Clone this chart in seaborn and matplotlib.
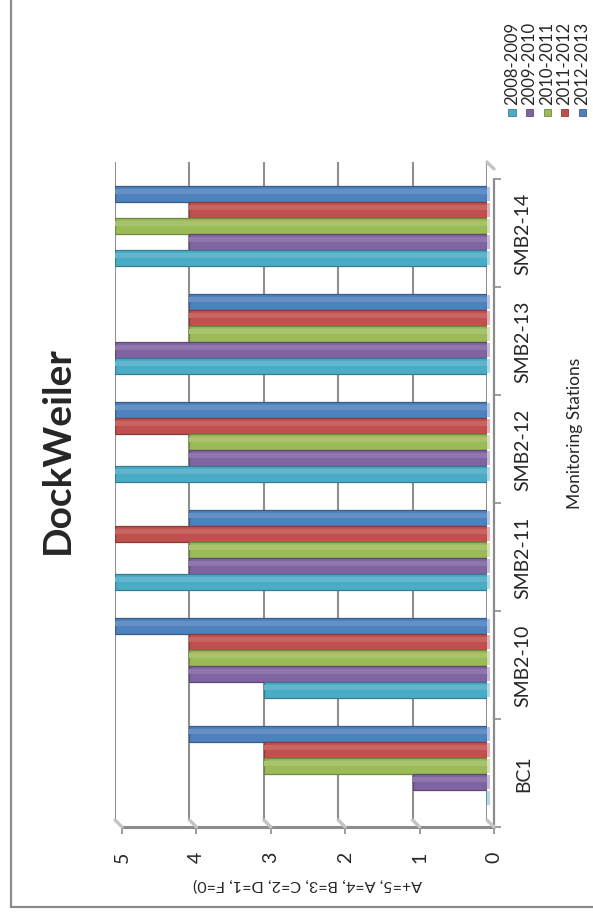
import numpy as np
import pandas as pd
import matplotlib
matplotlib.use("Agg")
import matplotlib.pyplot as plt
import matplotlib.transforms as mtransforms
import matplotlib.colors as mcolors
from matplotlib.lines import Line2D
from matplotlib.patches import Rectangle
import seaborn as sns

# ---- data -------------------------------------------------------------
stations = ["BC1", "SMB2-10", "SMB2-11", "SMB2-12", "SMB2-13", "SMB2-14"]
seasons = ["2008-2009", "2009-2010", "2010-2011", "2011-2012", "2012-2013"]
grades_2008_2009 = [0, 3, 5, 5, 5, 5]
grades_2009_2010 = [1, 4, 4, 4, 5, 4]
grades_2010_2011 = [3, 4, 4, 4, 4, 5]
grades_2011_2012 = [3, 4, 5, 5, 4, 4]
grades_2012_2013 = [4, 5, 4, 5, 4, 5]
season_colors = ["#4BACC6", "#8064A2", "#9BBB59", "#C0504D", "#4F81BD"]
value_ticks = [0, 1, 2, 3, 4, 5]

title = "DockWeiler"
value_axis_label = "A+=5, A=4, B=3, C=2, D=1, F=0)"
station_axis_label = "Monitoring Stations"

series = [grades_2008_2009, grades_2009_2010, grades_2010_2011,
          grades_2011_2012, grades_2012_2013]
df = pd.DataFrame(
    [(st, season, g)
     for season, vals in zip(seasons, series)
     for st, g in zip(stations, vals)],
    columns=["station", "season", "grade"],
)

# ---- figure -----------------------------------------------------------
sns.set_theme(style="white")
plt.rcParams["font.family"] = ["Lato", "DejaVu Sans"]

W, H, DPI = 593, 920, 100
fig = plt.figure(figsize=(W / DPI, H / DPI), dpi=DPI)
fig.patch.set_facecolor("white")

ax_left, ax_right, ax_top, ax_bottom = 115, 487, 163, 821
ax = fig.add_axes([ax_left / W, (H - ax_bottom) / H,
                   (ax_right - ax_left) / W, (ax_bottom - ax_top) / H])
ax.set_facecolor("none")

palette = dict(zip(seasons, season_colors))
sns.barplot(data=df, x="grade", y="station", hue="season",
            order=stations[::-1], hue_order=seasons[::-1],
            palette=palette, orient="h", width=0.74, gap=0,
            errorbar=None, saturation=1, legend=False, ax=ax, zorder=3)

# darker rims, a soft highlight and light end faces on every bar
for bar in list(ax.patches):
    fc = np.array(mcolors.to_rgb(bar.get_facecolor()))
    bar.set_edgecolor(fc * 0.72)
    bar.set_linewidth(0.9)
    x, y, w, h = bar.get_x(), bar.get_y(), bar.get_width(), bar.get_height()
    if w > 0:
        ax.add_patch(Rectangle((x, y + 0.18 * h), w, 0.3 * h,
                               facecolor=fc + (1 - fc) * 0.12,
                               edgecolor="none", zorder=3.5))
    ax.add_patch(Rectangle((0, y + 0.08 * h), -0.045, h * 0.84,
                           facecolor=fc + (1 - fc) * 0.55, edgecolor="none",
                           zorder=4, clip_on=False))

ax.set_xlim(5, 0)
ax.set_ylim(5.5, -0.593)

# back-wall gridlines
grid_color = "#8F8F8F"
ax.set_xticks(value_ticks)
ax.grid(axis="x", color=grid_color, linewidth=1.5, zorder=0)
ax.grid(axis="y", visible=False)
ax.set_axisbelow(True)
for s in ax.spines.values():
    s.set_visible(False)

# front plane offset (depth of the 3-D frame)
depth = mtransforms.ScaledTranslation(7 / DPI, -7 / DPI, fig.dpi_scale_trans)

# value tick labels (rotated), placed on the front floor
ax.set_xticklabels([str(v) for v in value_ticks], rotation=90,
                   fontsize=14, va="top", ha="center")
ax.tick_params(axis="x", length=0, pad=17)
for lab in ax.get_xticklabels():
    lab.set_transform(lab.get_transform() + depth)

# station tick labels on the right, rotated
ax.set_yticks(range(len(stations)))
ax.set_yticklabels(stations[::-1], rotation=90, fontsize=14,
                   va="center", ha="left")
ax.tick_params(axis="y", length=0, left=False, labelleft=False,
               right=False, labelright=True, pad=15)
for lab in ax.get_yticklabels():
    lab.set_transform(lab.get_transform() + depth)
ax.set_xlabel("")
ax.set_ylabel("")

frame_color = "#8C8C8C"
# front station axis with tick marks at category boundaries
ytr = ax.get_yaxis_transform() + depth
bounds = np.arange(-0.5, len(stations), 1.0)
ax.add_line(Line2D([1, 1], [5.5, -0.5], transform=ytr, color=frame_color,
                   linewidth=1.6, clip_on=False, zorder=5))
ax.plot(np.ones(len(bounds)), bounds, ls="none",
        marker=matplotlib.markers.TICKRIGHT, ms=5, mew=1.2,
        color=frame_color, transform=ytr, clip_on=False, zorder=5)

# front floor line with tick marks at each grade
xtr = ax.get_xaxis_transform() + depth
ax.add_line(Line2D([5, 0], [0, 0], transform=xtr, color=frame_color,
                   linewidth=2.2, clip_on=False, zorder=5))
ax.plot(value_ticks, np.zeros(len(value_ticks)), ls="none",
        marker=matplotlib.markers.TICKDOWN, ms=5, mew=1.2,
        color=frame_color, transform=xtr, clip_on=False, zorder=5)

# depth connectors from the back wall to the front frame
dx, dy = 7, -7
corners = [ax.transData.transform((v, 5.5)) for v in value_ticks]
corners.append(ax.transData.transform((0, -0.593)))
for px, py in corners:
    fig.add_artist(Line2D([px, px + dx], [py, py + dy],
                          transform=mtransforms.IdentityTransform(),
                          color="#C4C4C4", linewidth=2.4,
                          solid_capstyle="round", zorder=2))

# titles
fig.text(57 / W, 1 - 450 / H, title, rotation=90, fontsize=28,
         fontweight="bold", ha="center", va="center")
fig.text(307 / W, 1 - 884 / H, value_axis_label, rotation=180,
         fontsize=11.5, ha="center", va="center")
fig.text(575 / W, 1 - 433 / H, station_axis_label, rotation=90,
         fontsize=12.5, ha="center", va="center")

# legend: one rotated entry per season
leg_x = [512, 529.5, 547, 564.5, 582]
for x, name, col in zip(leg_x, seasons, season_colors):
    fig.patches.append(Rectangle(((x - 3.5) / W, 1 - 117 / H), 7 / W, 7 / H,
                                 transform=fig.transFigure, facecolor=col,
                                 edgecolor=np.array(mcolors.to_rgb(col)) * 0.75,
                                 linewidth=0.6))
    fig.text(x / W, 1 - 105 / H, name, rotation=90, fontsize=12,
             ha="center", va="bottom")

# chart-area border
fig.add_artist(Line2D([11 / W, 11 / W], [1, 1 - 908 / H], color="#8A8A8A",
                      linewidth=1.6, transform=fig.transFigure))
fig.add_artist(Line2D([11 / W, 1], [1 - 908 / H, 1 - 908 / H],
                      color="#8A8A8A", linewidth=1.6,
                      transform=fig.transFigure))

fig.savefig("out.png", dpi=DPI)
